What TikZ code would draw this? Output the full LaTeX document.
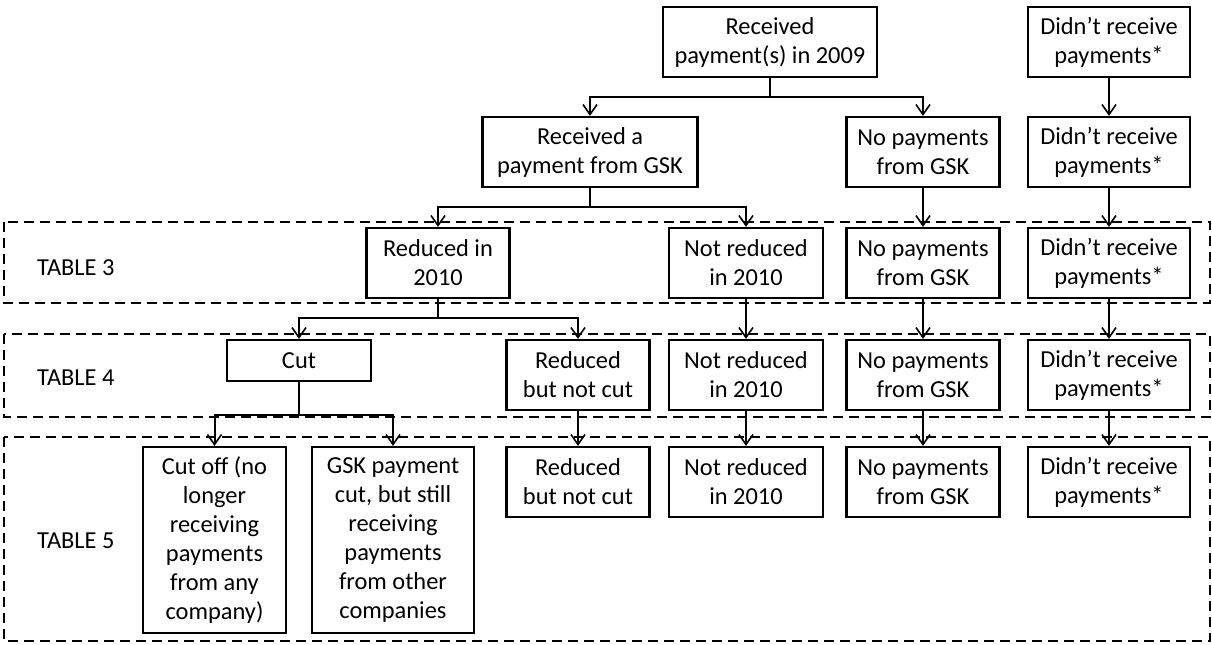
\documentclass[tikz,border=0pt]{standalone}
\usepackage{fontspec}
\setmainfont{Carlito}
\usetikzlibrary{arrows.meta}

\tikzset{
	box/.style={draw, line width=1.1pt, align=center, inner sep=2pt,
		minimum height=35pt, font=\fontsize{12.2}{14.5}\selectfont},
	arr/.style={line width=1pt, -{Straight Barb[length=5pt,width=7pt,line width=0.8pt]}},
	wire/.style={line width=1pt},
	tablebox/.style={line width=1.1pt, dash pattern=on 5pt off 3pt},
	tablelabel/.style={anchor=west, font=\fontsize{12.2}{14.5}\selectfont}
}

\begin{document}
\begin{tikzpicture}[x=0.5pt, y=-0.5pt]
\useasboundingbox (0,0) rectangle (1212,644);

%% Tablas %%
\draw[tablebox] (4,222) rectangle (1210,303);
\draw[tablebox] (4,334) rectangle (1210,417);
\draw[tablebox] (4,437) rectangle (1210,641);
\node[tablelabel] (t3) at (30,268) {TABLE 3};
\node[tablelabel] (t4) at (30,378) {TABLE 4};
\node[tablelabel] (t5) at (30,541) {TABLE 5};

%% Fila 1 %%
\node[box, minimum width=107pt] (rec09) at (770,42) {Received\\payment(s) in 2009};
\node[box, minimum width=81pt] (didnt1) at (1109,42) {Didn’t receive\\payments*};

%% Fila 2 %%
\node[box, minimum width=107.5pt] (recgsk) at (590,152) {Received a\\payment from GSK};
\node[box, minimum width=76.5pt] (nogsk1) at (923,152) {No payments\\from GSK};
\node[box, minimum width=81pt] (didnt2) at (1109,152) {Didn’t receive\\payments*};

%% Fila 3 %%
\node[box, minimum width=71.5pt] (red10) at (438,263) {Reduced in\\2010};
\node[box, minimum width=77pt] (notred1) at (746,263) {Not reduced\\in 2010};
\node[box, minimum width=76.5pt] (nogsk2) at (923,263) {No payments\\from GSK};
\node[box, minimum width=81pt] (didnt3) at (1109,263) {Didn’t receive\\payments*};

%% Fila 4 %%
\node[box, minimum width=72pt, minimum height=20.5pt] (cut) at (299,360.5) {Cut};
\node[box, minimum width=71.5pt] (rednc1) at (578,375) {Reduced\\but not cut};
\node[box, minimum width=77pt] (notred2) at (746,375) {Not reduced\\in 2010};
\node[box, minimum width=76.5pt] (nogsk3) at (923,375) {No payments\\from GSK};
\node[box, minimum width=81pt] (didnt4) at (1109,375) {Didn’t receive\\payments*};

%% Fila 5 %%
\node[box, minimum width=71.5pt, minimum height=93pt] (cutoff) at (214.5,540)
	{Cut off (no\\longer\\receiving\\payments\\from any\\company)};
\node[box, minimum width=81pt, minimum height=93pt] (gskcut) at (393,540)
	{GSK payment\\cut, but still\\receiving\\payments\\from other\\companies};
\node[box, minimum width=71.5pt] (rednc2) at (578,482) {Reduced\\but not cut};
\node[box, minimum width=77pt] (notred3) at (746,482) {Not reduced\\in 2010};
\node[box, minimum width=76.5pt] (nogsk4) at (923,482) {No payments\\from GSK};
\node[box, minimum width=81pt] (didnt5) at (1109,482) {Didn’t receive\\payments*};

%% Ramas %%
\coordinate (j1) at (770,97);
\coordinate (j2) at (590,207);
\coordinate (j3) at (438,318);
\coordinate (j4) at (299,415);
\draw[wire] (rec09.south) -- (j1);
\draw[arr] (j1) -| (recgsk.north);
\draw[arr] (j1) -| (nogsk1.north);
\draw[wire] (recgsk.south) -- (j2);
\draw[arr] (j2) -| (red10.north);
\draw[arr] (j2) -| (notred1.north);
\draw[wire] (red10.south) -- (j3);
\draw[arr] (j3) -| (cut.north);
\draw[arr] (j3) -| (rednc1.north);
\draw[wire] (cut.south) -- (j4);
\draw[arr] (j4) -| (cutoff.north);
\draw[arr] (j4) -| (gskcut.north);

%% Columnas %%
\foreach \a/\b in {didnt1/didnt2, didnt2/didnt3, didnt3/didnt4, didnt4/didnt5,
	nogsk1/nogsk2, nogsk2/nogsk3, nogsk3/nogsk4,
	notred1/notred2, notred2/notred3, rednc1/rednc2}
{
	\draw[arr] (\a.south) -- (\b.north);
}
\end{tikzpicture}
\end{document}
